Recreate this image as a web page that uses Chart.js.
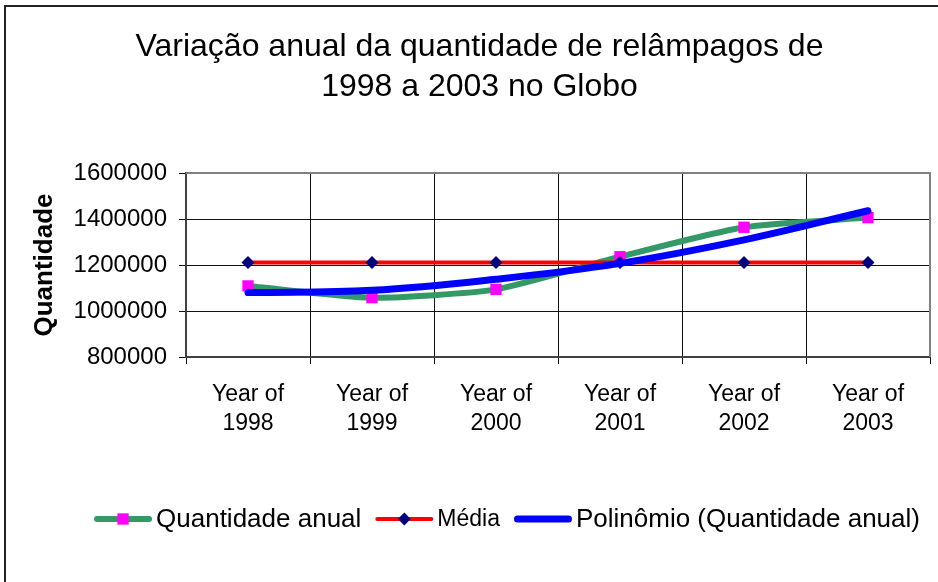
<!DOCTYPE html>
<html lang="pt">
<head>
<meta charset="utf-8">
<title>Relâmpagos 1998-2003</title>
<script src="https://cdn.jsdelivr.net/npm/chart.js@4.4.1/dist/chart.umd.min.js"></script>
<style>
  html, body { margin: 0; padding: 0; background: #fff; }
  #wrap { position: relative; width: 938px; height: 582px; }
</style>
</head>
<body>
<div id="wrap"><canvas id="chart"></canvas></div>
<script>
// Categories and series
const years = [['Year of', '1998'], ['Year of', '1999'], ['Year of', '2000'],
               ['Year of', '2001'], ['Year of', '2002'], ['Year of', '2003']];
const quantidadeAnual = [1109000, 1058000, 1094000, 1236000, 1364000, 1406000];
const media = [1211000, 1211000, 1211000, 1211000, 1211000, 1211000];
const polinomio = [1080000, 1090000, 1138000, 1207000, 1309000, 1436000];

const FONT = '"Liberation Sans", Arial, Helvetica, sans-serif';
Chart.defaults.font.family = FONT;
Chart.defaults.color = '#000';

// Legend entries drawn below the axis (each with its own font size)
const legendEntries = [
  { text: 'Quantidade anual', size: 26, dataset: 0 },
  { text: 'Média', size: 23, dataset: 1 },
  { text: 'Polinômio (Quantidade anual)', size: 26, dataset: 2 }
];

const frame = {
  id: 'frame',
  beforeDraw(chart) {
    const ctx = chart.ctx;
    ctx.save();
    ctx.strokeStyle = '#222';
    ctx.lineWidth = 2;
    ctx.beginPath();
    ctx.moveTo(5, chart.height);
    ctx.lineTo(5, 6);
    ctx.lineTo(chart.width, 6);
    ctx.stroke();
    ctx.restore();
  },
  afterDatasetsDraw(chart) {
    // grey edge along top and right of the plot area
    const a = chart.chartArea;
    const ctx = chart.ctx;
    ctx.save();
    ctx.strokeStyle = '#808080';
    ctx.lineWidth = 2;
    ctx.beginPath();
    ctx.moveTo(a.left, a.top);
    ctx.lineTo(a.right, a.top);
    ctx.lineTo(a.right, a.bottom);
    ctx.stroke();
    ctx.restore();
  }
};

const seriesLegend = {
  id: 'seriesLegend',
  afterDraw(chart) {
    const ctx = chart.ctx;
    const swatch = 58, textGap = 4, itemGap = 14;
    const cy = chart.chartArea.bottom + 162;
    ctx.save();
    let total = 0;
    legendEntries.forEach((e, i) => {
      ctx.font = e.size + 'px ' + FONT;
      e.w = ctx.measureText(e.text).width;
      total += swatch + textGap + e.w + (i ? itemGap : 0);
    });
    let x = 507 - total / 2;
    legendEntries.forEach(e => {
      const ds = chart.data.datasets[e.dataset];
      ctx.strokeStyle = ds.borderColor;
      ctx.lineWidth = ds.borderWidth;
      ctx.lineCap = 'round';
      ctx.beginPath();
      ctx.moveTo(x + ds.borderWidth / 2, cy);
      ctx.lineTo(x + swatch - ds.borderWidth / 2, cy);
      ctx.stroke();
      if (ds.pointRadius > 0) {
        ctx.fillStyle = ds.pointBackgroundColor;
        ctx.strokeStyle = ds.pointBorderColor;
        Chart.helpers.drawPoint(ctx, {
          pointStyle: ds.pointStyle, radius: ds.pointRadius, rotation: 0, borderWidth: 0
        }, x + swatch / 2, cy);
      }
      ctx.font = e.size + 'px ' + FONT;
      ctx.fillStyle = '#000';
      ctx.textBaseline = 'middle';
      ctx.fillText(e.text, x + swatch + textGap, cy + 1);
      x += swatch + textGap + e.w + itemGap;
    });
    ctx.restore();
  }
};

new Chart(document.getElementById('chart'), {
  type: 'line',
  data: {
    labels: years,
    datasets: [{
      label: 'Quantidade anual',
      data: quantidadeAnual,
      borderColor: '#339966',
      borderWidth: 6,
      tension: 0.2,
      pointStyle: 'rect',
      pointRadius: 8,
      pointBackgroundColor: '#ff00ff',
      pointBorderColor: '#ff00ff',
      pointBorderWidth: 0,
      order: 3
    }, {
      label: 'Média',
      data: media,
      borderColor: '#ff0000',
      borderWidth: 4,
      tension: 0,
      pointStyle: 'rectRot',
      pointRadius: 6.5,
      pointBackgroundColor: '#000080',
      pointBorderColor: '#000080',
      pointBorderWidth: 0,
      order: 2
    }, {
      label: 'Polinômio (Quantidade anual)',
      data: polinomio,
      borderColor: '#0000ff',
      borderWidth: 7,
      borderCapStyle: 'round',
      tension: 0.4,
      pointRadius: 0,
      order: 1
    }]
  },
  options: {
    responsive: true,
    maintainAspectRatio: false,
    animation: false,
    events: [],
    layout: { padding: { left: 26, right: 5, top: 7, bottom: 0 } },
    plugins: {
      legend: { display: false },
      tooltip: { enabled: false },
      title: {
        display: true,
        text: ['Variação anual da quantidade de relâmpagos de', '1998 a 2003 no Globo'],
        font: { size: 32, weight: 'normal', lineHeight: 1.25 },
        color: '#000',
        padding: { top: 20, bottom: 66 }
      }
    },
    scales: {
      x: {
        offset: true,
        grid: { offset: true, color: '#111', lineWidth: 1, tickLength: 7 },
        border: { color: '#404040', width: 2 },
        ticks: { font: { size: 23, lineHeight: 1.26 }, padding: 16, maxRotation: 0, autoSkip: false },
        afterFit(scale) { scale.height = 225; }
      },
      y: {
        min: 800000,
        max: 1600000,
        grid: { color: '#111', lineWidth: 1, tickLength: 7 },
        border: { color: '#404040', width: 2 },
        ticks: {
          stepSize: 200000,
          font: { size: 24 },
          padding: 12,
          callback: v => String(v)
        },
        title: {
          display: true,
          text: 'Quantidade',
          font: { size: 26, weight: 'bold' },
          padding: { top: 3, bottom: 0 }
        },
        afterFit(scale) { scale.width = 160; }
      }
    }
  },
  plugins: [frame, seriesLegend]
});
</script>
</body>
</html>
